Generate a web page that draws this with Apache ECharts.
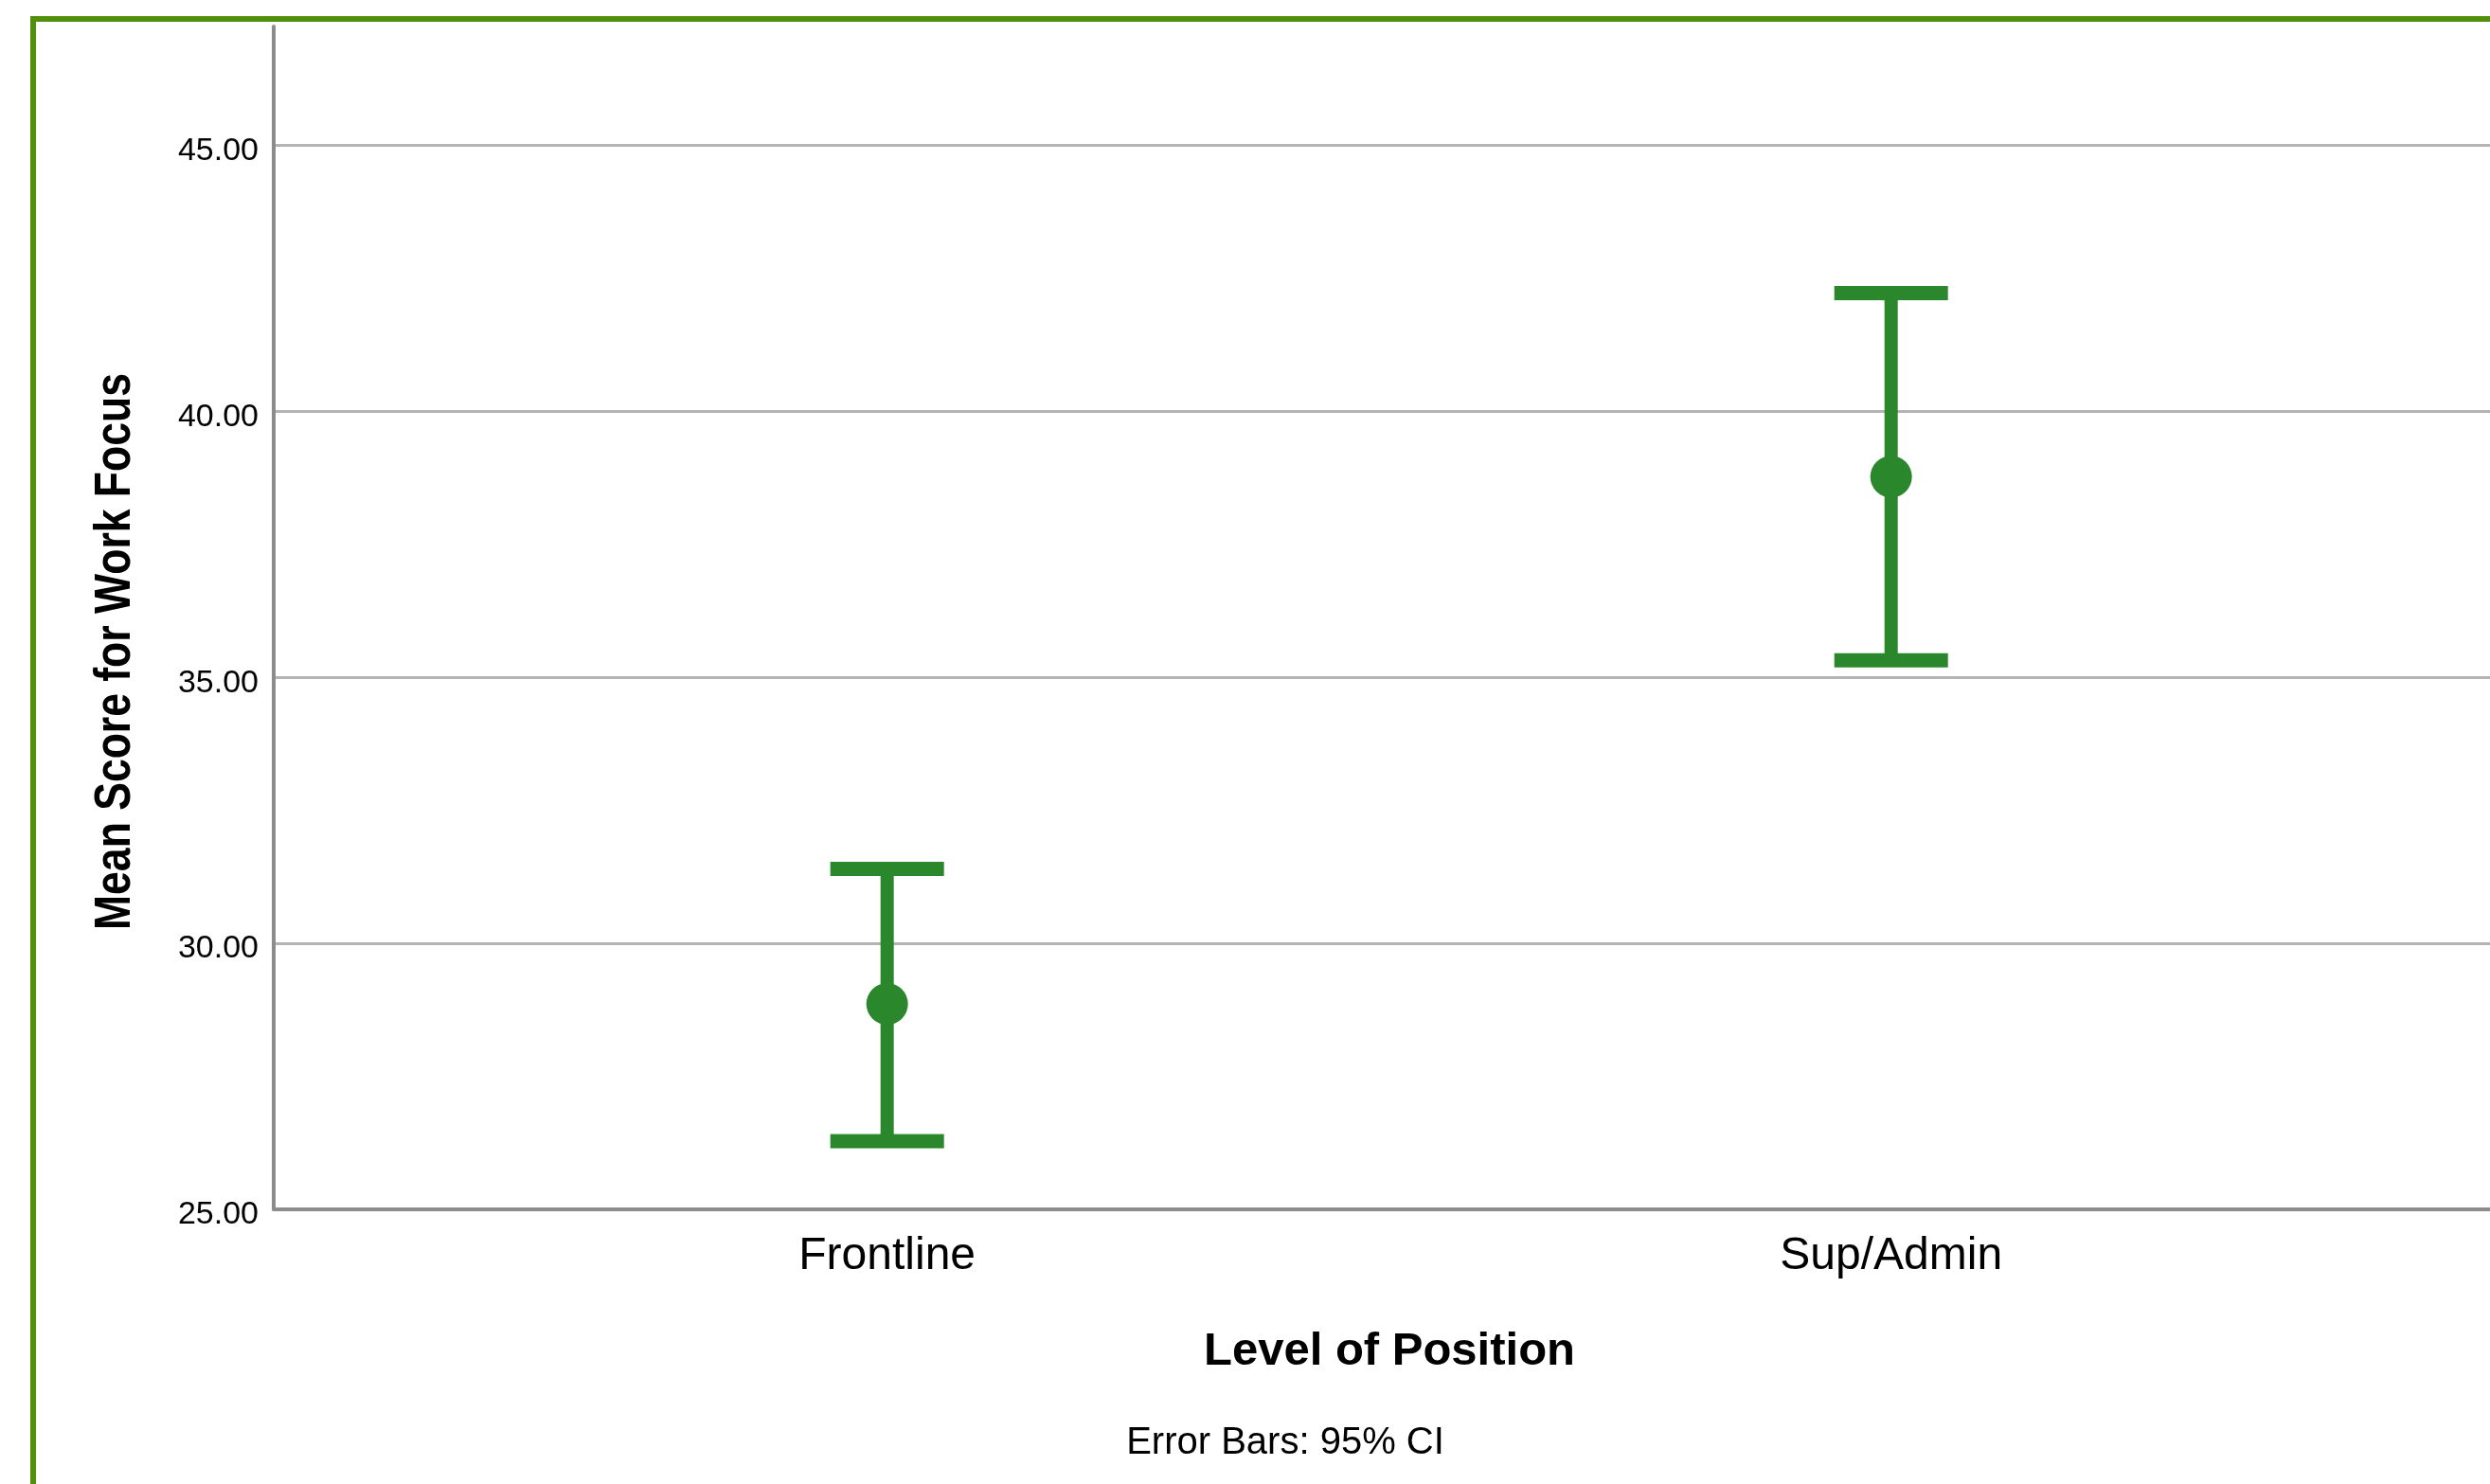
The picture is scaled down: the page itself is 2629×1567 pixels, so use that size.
<!DOCTYPE html>
<html>
<head>
<meta charset="utf-8">
<script src="https://cdn.jsdelivr.net/npm/echarts@6/dist/echarts.min.js"></script>
<style>
html,body{margin:0;padding:0;background:#fff;}
#main{width:2629px;height:1567px;}
</style>
</head>
<body>
<div id="main"></div>
<script>
var categories = ['Frontline', 'Sup/Admin'];//组别
var means = [28.86, 38.77];//均值
var lower = [26.28, 35.32];//95% CI 下限
var upper = [31.40, 42.22];//95% CI 上限
var yMin = 25, yMax = 47.23, yStep = 5;

var green = '#2b872b';
var font = "'Liberation Sans', Arial, sans-serif";

var barData = [];
var pointData = [];
for (var i = 0; i < categories.length; i++) {
    barData.push([i, lower[i], upper[i]]);
    pointData.push([i, means[i]]);
}

function renderErrorBar(params, api) {
    var x = api.value(0);
    var top = api.coord([x, api.value(2)]);
    var bot = api.coord([x, api.value(1)]);
    var half = 60;
    return {
        type: 'group',
        children: [
            {type: 'line', shape: {x1: top[0], y1: top[1], x2: bot[0], y2: bot[1]}, style: {stroke: green, lineWidth: 14}},
            {type: 'line', shape: {x1: top[0] - half, y1: top[1], x2: top[0] + half, y2: top[1]}, style: {stroke: green, lineWidth: 15}},
            {type: 'line', shape: {x1: bot[0] - half, y1: bot[1], x2: bot[0] + half, y2: bot[1]}, style: {stroke: green, lineWidth: 15}}
        ]
    };
}

var myChart = echarts.init(document.getElementById('main'));
var option = {
    backgroundColor: '#fff',
    animation: false,
    grid: {left: 289, top: 28, right: 0, height: 1249},
    graphic: [
        {type: 'rect', shape: {x: 35, y: 20, width: 4000, height: 4000}, style: {fill: 'none', stroke: '#52900c', lineWidth: 6}},
        {type: 'text', x: 122, y: 688, rotation: Math.PI / 2, scaleX: 0.84,
            style: {text: 'Mean Score for Work Focus', font: 'bold 53px ' + font, fill: '#000', align: 'center', verticalAlign: 'middle'}},
        {type: 'text', x: 1357, y: 1524,
            style: {text: 'Error Bars: 95% CI', font: '40px ' + font, fill: '#000', align: 'center', verticalAlign: 'middle'}}
    ],
    xAxis: {
        type: 'value',
        min: -0.611,
        max: 1.5965,
        name: 'Level of Position',
        nameLocation: 'middle',
        nameGap: 126,
        nameTextStyle: {color: '#000', fontSize: 49, fontWeight: 'bold', fontFamily: font, padding: [0, 0, 0, 16]},
        axisLine: {show: true, onZero: false, lineStyle: {color: '#8c8c8c', width: 4}},
        axisTick: {show: false},
        splitLine: {show: false},
        axisLabel: {
            customValues: [0, 1],
            margin: 26,
            color: '#000',
            fontSize: 48,
            fontFamily: font,
            formatter: function (v) { return categories[Math.round(v)]; }
        }
    },
    yAxis: {
        type: 'value',
        min: yMin,
        max: yMax,
        interval: yStep,
        axisLine: {show: true, onZero: false, lineStyle: {color: '#8c8c8c', width: 4}},
        axisTick: {show: false},
        splitLine: {show: true, showMaxLine: false, showMinLine: false, lineStyle: {color: '#b4b4b4', width: 3}},
        axisLabel: {
            margin: 16,
            color: '#000',
            fontSize: 34,
            fontFamily: font,
            verticalAlign: 'top',
            lineHeight: 12,
            formatter: function (v) { return v % yStep === 0 ? v.toFixed(2) : ''; }
        }
    },
    series: [
        {
            type: 'custom',
            renderItem: renderErrorBar,
            data: barData,
            z: 3
        },
        {
            type: 'scatter',
            data: pointData,
            symbol: 'circle',
            symbolSize: 44,
            itemStyle: {color: green, opacity: 1},
            z: 4
        }
    ]
};
myChart.setOption(option);
</script>
</body>
</html>
